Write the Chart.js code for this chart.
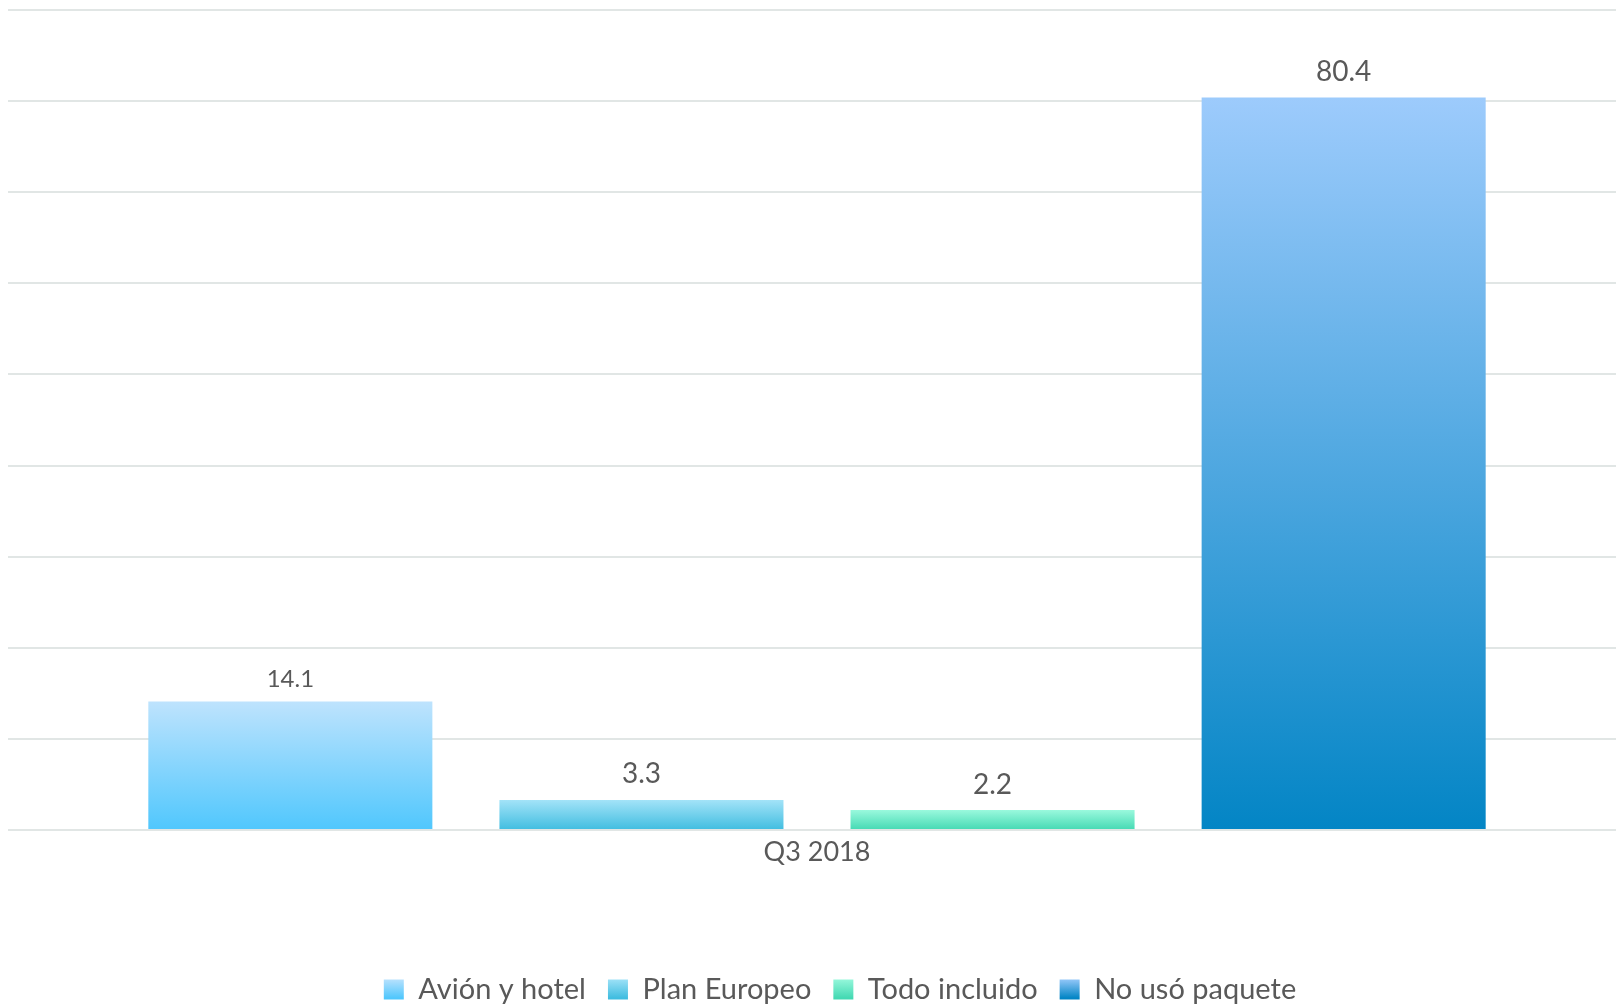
<!DOCTYPE html>
<html>
<head>
<meta charset="utf-8">
<script src="https://cdn.jsdelivr.net/npm/chart.js@4/dist/chart.umd.min.js"></script>
<style>
    html, body { margin: 0; padding: 0; background: #fff; overflow: hidden; }
    #wrap { width: 1626px; height: 1014px; }
</style>
</head>
<body>
<div id="wrap"><canvas id="paquetesChart"></canvas></div>
<script>
/* ===== DATA ===== */
const categories = ['Q3 2018'];
const seriesNames = ['Avión y hotel', 'Plan Europeo', 'Todo incluido', 'No usó paquete'];
const avionHotel = [14.1];
const planEuropeo = [3.3];
const todoIncluido = [2.2];
const noUsoPaquete = [80.4];
const yMax = 90;
const yStep = 10;

/* ===== STYLE ===== */
const topColors = ['#bee3fd', '#a3e3f8', '#9af9dd', '#9dcbfc'];
const bottomColors = ['#50c7fd', '#40bde0', '#44d9b3', '#0385c5'];
const labelSizes = [24, 28, 28, 28];
const labelOffsets = [22, 26, 25, 25];
const textColor = '#595959';

function barGradient(i) {
    return function(context) {
        const chart = context.chart;
        if (!chart.chartArea || context.type !== 'data') return bottomColors[i];
        const y = chart.scales.y;
        const yTop = y.getPixelForValue(context.raw);
        const yBottom = y.getPixelForValue(0);
        const g = chart.ctx.createLinearGradient(0, yTop, 0, yBottom);
        g.addColorStop(0, topColors[i]);
        g.addColorStop(1, bottomColors[i]);
        return g;
    };
}

/* ===== VALUE LABELS ===== */
const valueLabels = {
    id: 'valueLabels',
    afterDatasetsDraw(chart) {
        const ctx = chart.ctx;
        chart.data.datasets.forEach((ds, i) => {
            chart.getDatasetMeta(i).data.forEach((bar, j) => {
                ctx.save();
                ctx.fillStyle = textColor;
                ctx.font = labelSizes[i] + 'px Lato';
                ctx.textAlign = 'center';
                ctx.textBaseline = 'middle';
                ctx.fillText(ds.data[j].toFixed(1), bar.x, bar.y - labelOffsets[i]);
                ctx.restore();
            });
        });
    }
};

// legend sits a bit right of the plot centre in the original
const legendShift = {
    id: 'legendShift',
    beforeDraw(chart) {
        if (chart.legend) {
            chart.legend.left += 23;
            chart.legend.right += 23;
        }
    }
};

const seriesData = [avionHotel, planEuropeo, todoIncluido, noUsoPaquete];

const ctx = document.getElementById('paquetesChart');
new Chart(ctx.getContext('2d'), {
    type: 'bar',
    data: {
        labels: categories,
        datasets: seriesNames.map((name, i) => ({
            label: name,
            data: seriesData[i],
            backgroundColor: barGradient(i),
            borderWidth: 0,
            categoryPercentage: 0.868,
            barPercentage: 0.809
        }))
    },
    options: {
        responsive: true,
        maintainAspectRatio: false,
        animation: false,
        layout: { padding: { left: 8, top: 10, right: 0, bottom: 0 } },
        plugins: {
            tooltip: { enabled: false },
            legend: {
                position: 'bottom',
                labels: {
                    color: textColor,
                    font: { family: 'Lato', size: 29 },
                    boxWidth: 20,
                    boxHeight: 20,
                    padding: 22,
                    generateLabels(chart) {
                        return chart.data.datasets.map((ds, i) => {
                            const g = chart.ctx.createLinearGradient(0, 978, 0, 998);
                            g.addColorStop(0, topColors[i]);
                            g.addColorStop(1, bottomColors[i]);
                            return {
                                text: ds.label,
                                fillStyle: g,
                                strokeStyle: 'rgba(0,0,0,0)',
                                lineWidth: 0,
                                fontColor: textColor,
                                datasetIndex: i,
                                hidden: false
                            };
                        });
                    }
                }
            }
        },
        scales: {
            x: {
                grid: { display: false, drawTicks: false },
                border: { display: false },
                ticks: { color: textColor, font: { family: 'Lato', size: 27 }, padding: 6 },
                afterFit(axis) { axis.height = 123; }
            },
            y: {
                min: 0,
                max: yMax,
                ticks: { stepSize: yStep, display: false },
                grid: { color: '#e1e6e5', lineWidth: 2, drawTicks: false },
                border: { display: false }
            }
        }
    },
    plugins: [valueLabels, legendShift]
});
</script>
</body>
</html>
